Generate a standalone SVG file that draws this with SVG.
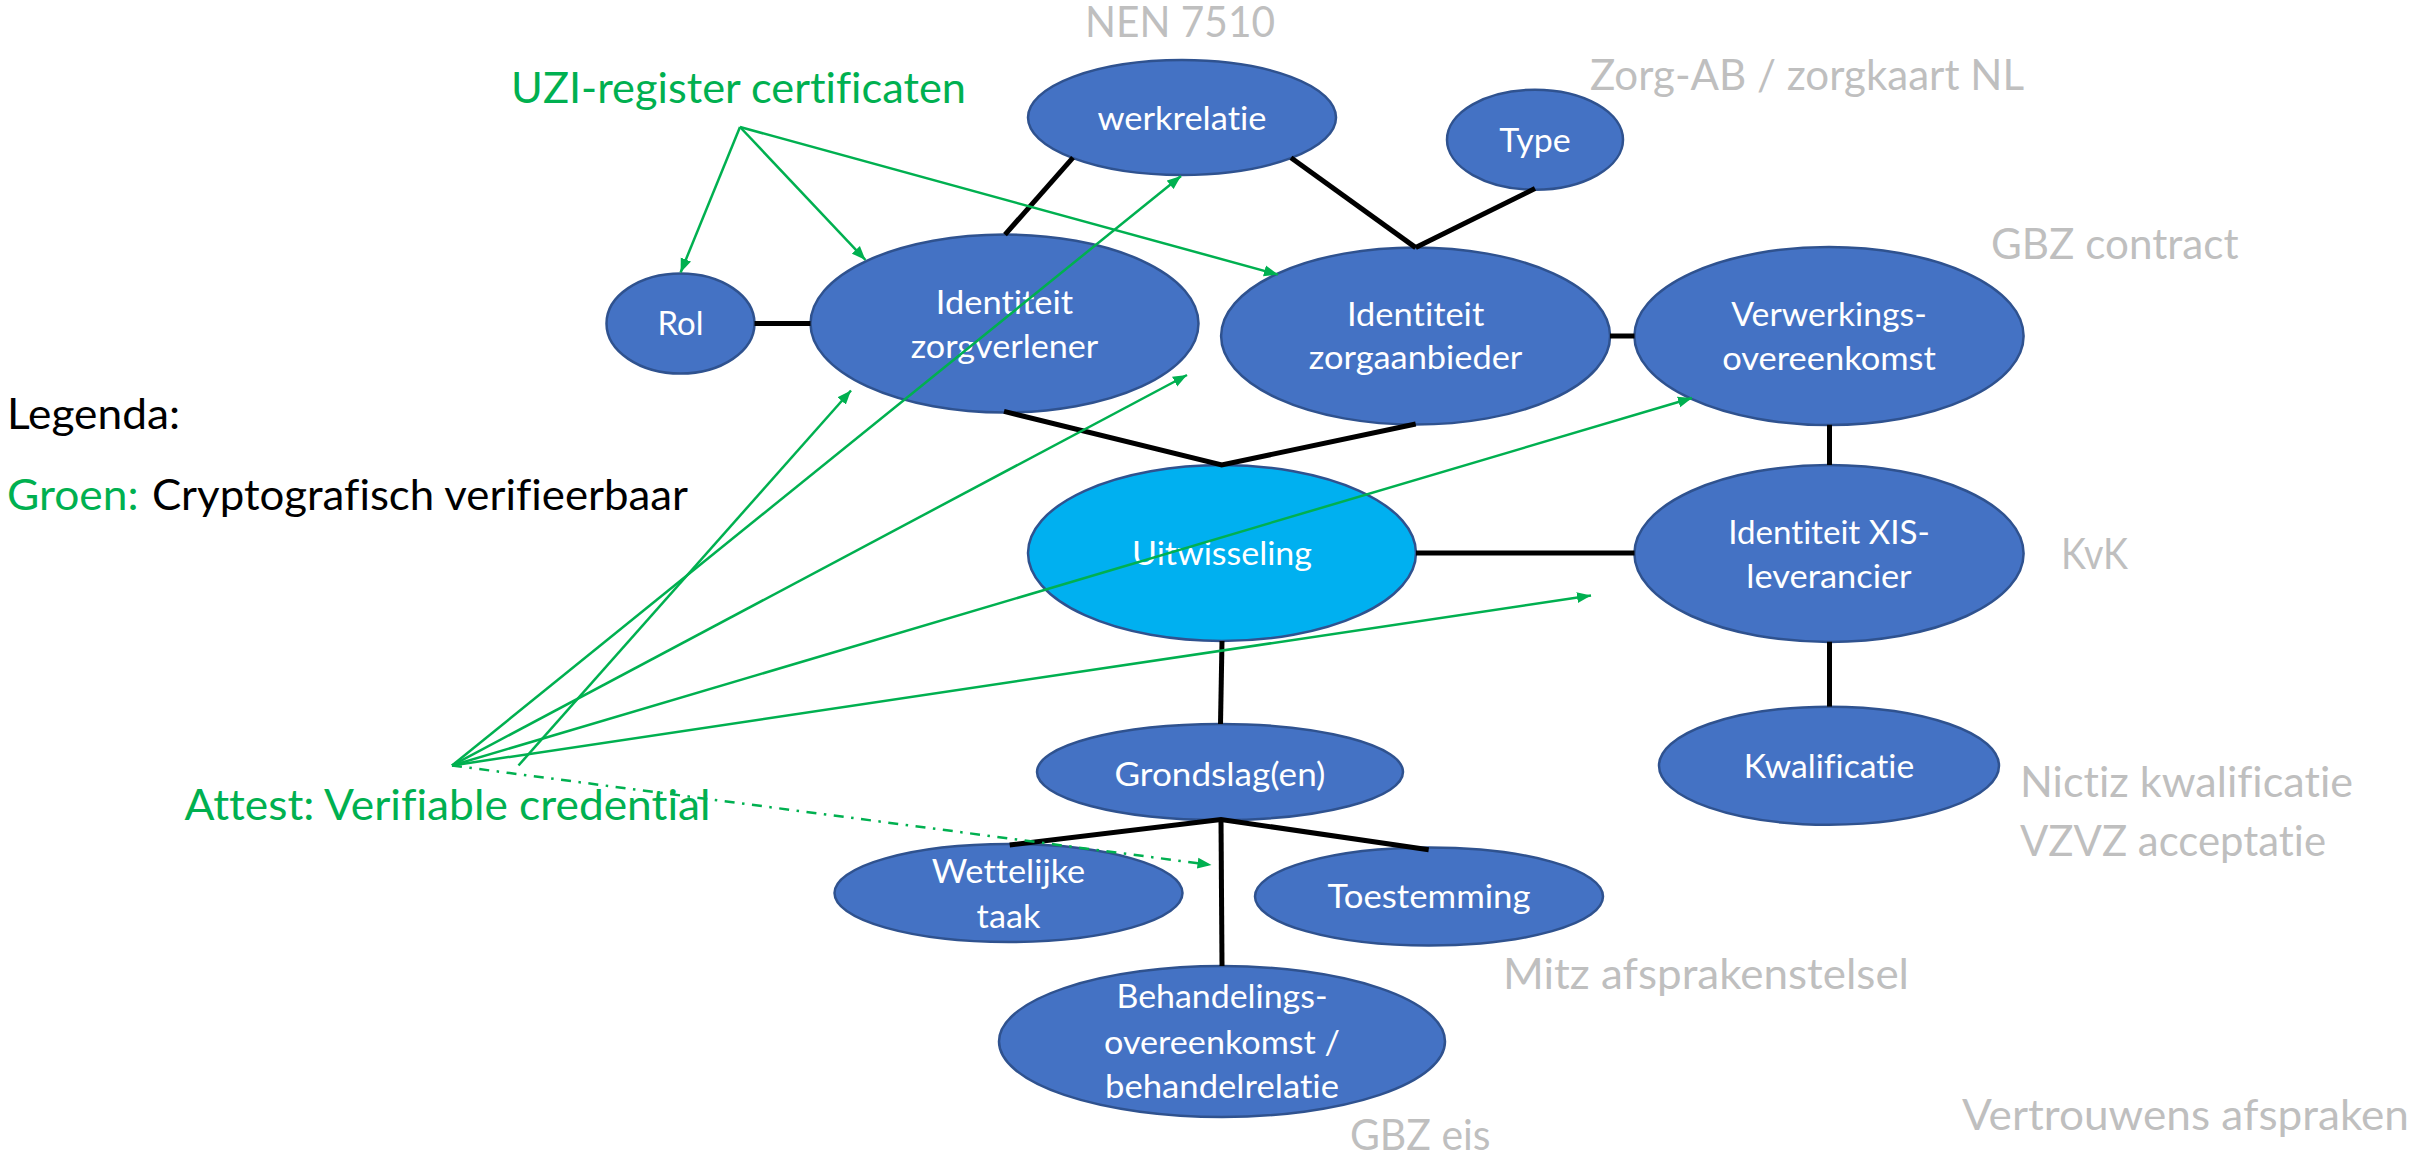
<svg xmlns="http://www.w3.org/2000/svg" width="2433" height="1160" viewBox="0 0 2433 1160">
  <style>
    text { font-variant-ligatures: none; font-feature-settings: "liga" 0, "dlig" 0; }
    .node ellipse { fill: #4472C4; stroke: #2F528F; stroke-width: 2.5; }
    .node.hub ellipse { fill: #00B0F0; }
    .node text { font-family: Lato, "Liberation Sans", sans-serif; font-size: 33.5px; fill: #FFFFFF; text-anchor: middle; }
    .lbl { font-family: Lato, "Liberation Sans", sans-serif; font-size: 43px; }
    .grey { fill: #BFBFBF; }
    .green { fill: #00B050; }
    .dark { fill: #000000; }
    .link { stroke: #000000; stroke-width: 5; fill: none; stroke-linecap: butt; }
    .cert { stroke: #00B050; stroke-width: 2.5; fill: none; marker-end: url(#arrow); }
    .dashdot { stroke-dasharray: 10 7.5 2.5 7.5; }
  </style>
  <defs>
    <marker id="arrow" markerUnits="userSpaceOnUse" markerWidth="15" markerHeight="12" refX="14" refY="6" orient="auto">
      <path d="M0,0.5 L14,6 L0,11.5 z" fill="#00B050"/>
    </marker>
  </defs>

  <rect width="2433" height="1160" fill="#FFFFFF"/>

  <!-- free-standing labels -->
  <g id="labels">
    <text class="lbl grey" x="1085" y="37" textLength="190" lengthAdjust="spacingAndGlyphs">NEN 7510</text>
    <text class="lbl green" x="511" y="103" textLength="455" lengthAdjust="spacingAndGlyphs">UZI-register certificaten</text>
    <text class="lbl grey" x="1590" y="90" textLength="434" lengthAdjust="spacingAndGlyphs">Zorg-AB / zorgkaart NL</text>
    <text class="lbl grey" x="1991" y="259" textLength="247.5" lengthAdjust="spacingAndGlyphs">GBZ contract</text>
    <text class="lbl grey" x="2061" y="569" textLength="67" lengthAdjust="spacingAndGlyphs">KvK</text>
    <text class="lbl grey" x="2020" y="797" textLength="333" lengthAdjust="spacingAndGlyphs">Nictiz kwalificatie</text>
    <text class="lbl grey" x="2020" y="855.5" textLength="306" lengthAdjust="spacingAndGlyphs">VZVZ acceptatie</text>
    <text class="lbl grey" x="1503" y="989" textLength="406" lengthAdjust="spacingAndGlyphs">Mitz afsprakenstelsel</text>
    <text class="lbl grey" x="1350" y="1150" textLength="140.5" lengthAdjust="spacingAndGlyphs">GBZ eis</text>
    <text class="lbl grey" x="1962" y="1130" textLength="447" lengthAdjust="spacingAndGlyphs">Vertrouwens afspraken</text>
    <text class="lbl dark" x="7" y="428.5" textLength="173" lengthAdjust="spacingAndGlyphs">Legenda:</text>
    <text class="lbl green" x="7" y="510" textLength="131.5" lengthAdjust="spacingAndGlyphs">Groen:</text>
    <text class="lbl dark" x="152" y="510" textLength="536" lengthAdjust="spacingAndGlyphs">Cryptografisch verifieerbaar</text>
    <text class="lbl green" x="184.5" y="820" textLength="526" lengthAdjust="spacingAndGlyphs">Attest: Verifiable credential</text>
  </g>

  <!-- nodes -->
  <g id="rol" class="node">
    <ellipse cx="680.5" cy="323.5" rx="74" ry="50"/>
    <text x="680.5" y="335" textLength="46" lengthAdjust="spacingAndGlyphs">Rol</text>
  </g>
  <g id="identiteit-zorgverlener" class="node">
    <ellipse cx="1004.5" cy="323.5" rx="194" ry="89"/>
    <text x="1004.5" y="313.8" textLength="137.3" lengthAdjust="spacingAndGlyphs">Identiteit</text>
    <text x="1004.5" y="357.8" textLength="187.6" lengthAdjust="spacingAndGlyphs">zorgverlener</text>
  </g>
  <g id="werkrelatie" class="node">
    <ellipse cx="1182" cy="117.5" rx="154" ry="57.5"/>
    <text x="1182" y="130" textLength="169" lengthAdjust="spacingAndGlyphs">werkrelatie</text>
  </g>
  <g id="type" class="node">
    <ellipse cx="1535" cy="139.7" rx="88" ry="50"/>
    <text x="1535" y="151.5" textLength="71.6" lengthAdjust="spacingAndGlyphs">Type</text>
  </g>
  <g id="identiteit-zorgaanbieder" class="node">
    <ellipse cx="1415.6" cy="336" rx="194.5" ry="88.6"/>
    <text x="1415.6" y="326.4" textLength="137.3" lengthAdjust="spacingAndGlyphs">Identiteit</text>
    <text x="1415.6" y="369.3" textLength="213.5" lengthAdjust="spacingAndGlyphs">zorgaanbieder</text>
  </g>
  <g id="verwerkingsovereenkomst" class="node">
    <ellipse cx="1829" cy="336" rx="194.6" ry="89"/>
    <text x="1829" y="326" textLength="195.4" lengthAdjust="spacingAndGlyphs">Verwerkings-</text>
    <text x="1829" y="370" textLength="213.6" lengthAdjust="spacingAndGlyphs">overeenkomst</text>
  </g>
  <g id="identiteit-xis-leverancier" class="node">
    <ellipse cx="1829" cy="553.5" rx="194.6" ry="88.4"/>
    <text x="1829" y="544" textLength="201.6" lengthAdjust="spacingAndGlyphs">Identiteit XIS-</text>
    <text x="1829" y="587.5" textLength="165.3" lengthAdjust="spacingAndGlyphs">leverancier</text>
  </g>
  <g id="uitwisseling" class="node hub">
    <ellipse cx="1222" cy="553" rx="194" ry="88"/>
    <text x="1222" y="564.5" textLength="180" lengthAdjust="spacingAndGlyphs">Uitwisseling</text>
  </g>
  <g id="kwalificatie" class="node">
    <ellipse cx="1829" cy="765.7" rx="170" ry="59"/>
    <text x="1829" y="778" textLength="170.5" lengthAdjust="spacingAndGlyphs">Kwalificatie</text>
  </g>
  <g id="grondslagen" class="node">
    <ellipse cx="1220" cy="772" rx="183" ry="48"/>
    <text x="1220" y="786" textLength="211" lengthAdjust="spacingAndGlyphs">Grondslag(en)</text>
  </g>
  <g id="wettelijke-taak" class="node">
    <ellipse cx="1008.5" cy="893" rx="174" ry="49"/>
    <text x="1008.5" y="883.4" textLength="153.5" lengthAdjust="spacingAndGlyphs">Wettelijke</text>
    <text x="1008.5" y="928" textLength="63.8" lengthAdjust="spacingAndGlyphs">taak</text>
  </g>
  <g id="toestemming" class="node">
    <ellipse cx="1429" cy="896.5" rx="174" ry="49"/>
    <text x="1429" y="908" textLength="203" lengthAdjust="spacingAndGlyphs">Toestemming</text>
  </g>
  <g id="behandelingsovereenkomst" class="node">
    <ellipse cx="1222" cy="1041.5" rx="223" ry="75.5"/>
    <text x="1222" y="1007.8" textLength="211" lengthAdjust="spacingAndGlyphs">Behandelings-</text>
    <text x="1222" y="1053.7" textLength="236" lengthAdjust="spacingAndGlyphs">overeenkomst /</text>
    <text x="1222" y="1097.7" textLength="234" lengthAdjust="spacingAndGlyphs">behandelrelatie</text>
  </g>

  <!-- connectors -->
  <g id="connectors">
    <!-- structural links -->
    <line class="link" x1="754.5" y1="323.5" x2="810.5" y2="323.5"/>
    <line class="link" x1="1005" y1="234.6" x2="1073" y2="157.7"/>
    <line class="link" x1="1291" y1="157.7" x2="1415.7" y2="247.6"/>
    <line class="link" x1="1535" y1="188.5" x2="1415.7" y2="247.6"/>
    <polyline class="link" points="1004,411.4 1221.7,465 1415.7,424"/>
    <line class="link" x1="1610" y1="336" x2="1634.5" y2="336"/>
    <line class="link" x1="1829.5" y1="424.8" x2="1829.5" y2="465"/>
    <line class="link" x1="1416" y1="553" x2="1634.5" y2="553"/>
    <line class="link" x1="1829.5" y1="641.8" x2="1829.5" y2="706.6"/>
    <line class="link" x1="1222" y1="641" x2="1220.5" y2="724"/>
    <polyline class="link" points="1009.7,845 1221,819.5 1428.7,849.7"/>
    <line class="link" x1="1221" y1="819.5" x2="1222" y2="966"/>

    <!-- UZI-register certificates -->
    <line class="cert" x1="740" y1="127" x2="680.6" y2="272.5"/>
    <line class="cert" x1="740" y1="127" x2="865.5" y2="260"/>
    <line class="cert" x1="740" y1="127" x2="1278" y2="274.6"/>

    <!-- verifiable credential attestations -->
    <line class="cert" x1="452" y1="765.5" x2="1181" y2="176"/>
    <line class="cert" x1="518.5" y1="765.5" x2="851" y2="390.5"/>
    <line class="cert" x1="452" y1="765.5" x2="1187" y2="375"/>
    <line class="cert" x1="452" y1="765.5" x2="1692" y2="398"/>
    <line class="cert" x1="452" y1="765.5" x2="1591" y2="595.5"/>
    <line class="cert dashdot" x1="452" y1="765.5" x2="1211.5" y2="865"/>
  </g>
</svg>
